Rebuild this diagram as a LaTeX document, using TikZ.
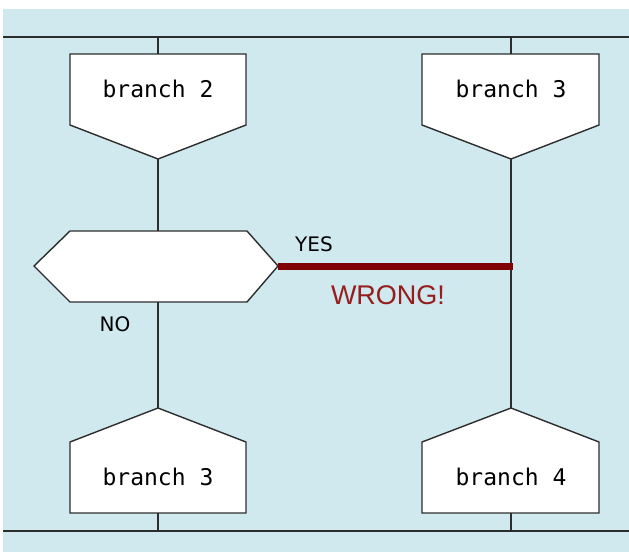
\documentclass[tikz,border=0pt]{standalone}
\usepackage{fontspec}
\newfontfamily\labelfont{DejaVu Sans}
\newfontfamily\codefont{DejaVu Sans Mono}
\newfontfamily\notefont{Liberation Sans}
\definecolor{lanebg}{RGB}{208,233,238}
\definecolor{edgegray}{RGB}{45,45,45}
\definecolor{errline}{RGB}{128,0,0}
\definecolor{errtext}{RGB}{150,28,30}
\begin{document}
\begin{tikzpicture}[x=1pt,y=-1pt,
  outline/.style={draw=edgegray,line width=1.4pt,fill=white,line join=miter},
  wire/.style={draw=edgegray,line width=1.4pt},
  codelabel/.style={font=\codefont\fontsize{23}{26}\selectfont,text=black,inner sep=0pt},
  answer/.style={font=\labelfont\fontsize{20}{24}\selectfont,text=black,inner sep=0pt},
  badwire/.style={draw=errline,line width=7pt},
  badnote/.style={font=\notefont\fontsize{27}{30}\selectfont,text=errtext,inner sep=0pt}]
\useasboundingbox (0,0) rectangle (629,552);
\fill[lanebg] (3,9) rectangle (629,552);

% lane rails
\coordinate (railTL) at (3,37);
\coordinate (railTR) at (629,37);
\coordinate (railBL) at (3,531);
\coordinate (railBR) at (629,531);
\draw[wire] (railTL) -- (railTR);
\draw[wire] (railBL) -- (railBR);

% branch entry boxes (pointing down)
\draw[outline] (70,54) -- (246,54) -- (246,125) -- (158,159) -- (70,125) -- cycle;
\draw[outline] (422,54) -- (599,54) -- (599,125) -- (511,159) -- (422,125) -- cycle;
\node[codelabel] (b2) at (158,89) {branch 2};
\node[codelabel] (b3top) at (511,89) {branch 3};
\coordinate (b2in) at (158,54);
\coordinate (b2out) at (158,159);
\coordinate (b3in) at (511,54);
\coordinate (b3out) at (511,159);

% decision
\draw[outline] (34,266) -- (70,231) -- (247,231) -- (278,266) -- (247,302) -- (70,302) -- cycle;
\coordinate (qin) at (158,231);
\coordinate (qout) at (158,302);
\coordinate (qyes) at (278,266);

% branch exit boxes (pointed top)
\draw[outline] (158,408) -- (246,442) -- (246,513) -- (70,513) -- (70,442) -- cycle;
\draw[outline] (511,408) -- (599,442) -- (599,513) -- (422,513) -- (422,442) -- cycle;
\node[codelabel] (b3bot) at (158,477) {branch 3};
\node[codelabel] (b4) at (511,477) {branch 4};
\coordinate (b3bin) at (158,408);
\coordinate (b3bout) at (158,513);
\coordinate (b4in) at (511,408);
\coordinate (b4out) at (511,513);

% rails to boxes
\coordinate (tapL) at (158,37);
\coordinate (tapR) at (511,37);
\coordinate (dropL) at (158,531);
\coordinate (dropR) at (511,531);
\draw[wire] (tapL) -- (b2in);
\draw[wire] (tapR) -- (b3in);
\draw[wire] (b3bout) -- (dropL);
\draw[wire] (b4out) -- (dropR);

% flow lines
\draw[wire] (b2out) -- (qin);
\draw[wire] (qout) -- (b3bin);
\draw[wire] (b3out) -- (b4in);

% invalid jump into the other branch
\coordinate (hit) at (513,266);
\draw[badwire] (qyes) -- (hit);

\node[answer] (yes) at (314,244) {YES};
\node[answer] (no) at (115,324) {NO};
\node[badnote] (wrong) at (388,295) {WRONG!};
\end{tikzpicture}
\end{document}
